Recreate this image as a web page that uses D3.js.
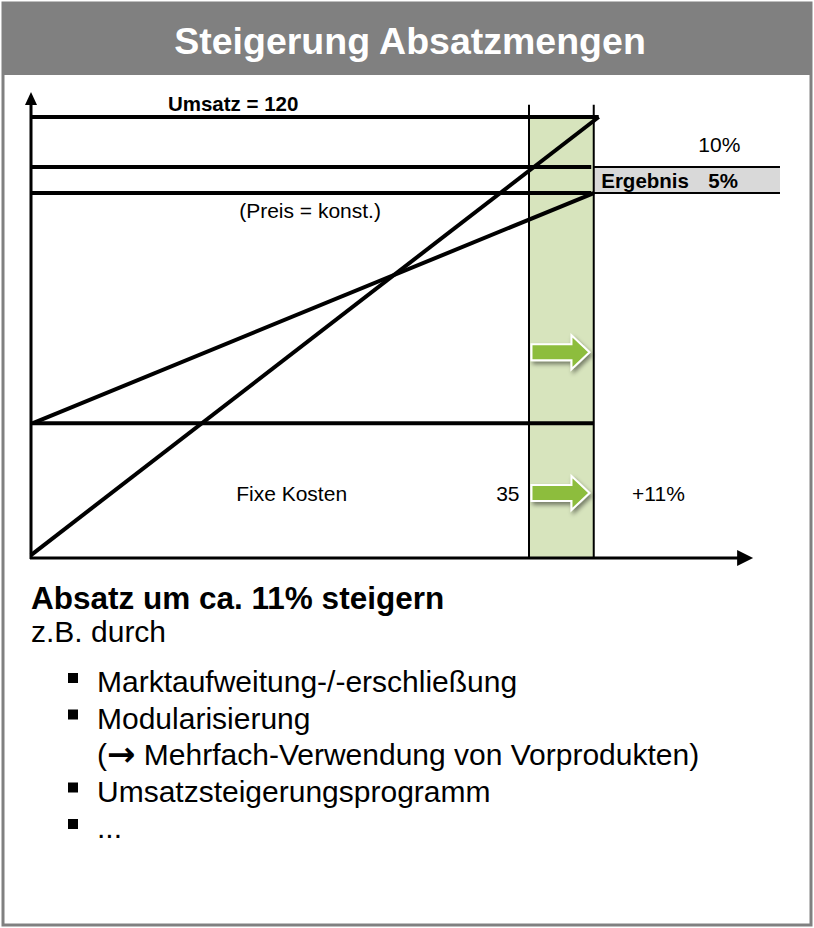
<!DOCTYPE html>
<html>
<head>
<meta charset="utf-8">
<script src="https://cdn.jsdelivr.net/npm/d3@7"></script>
<style>
  html, body { margin: 0; padding: 0; background: #fff; }
  svg text { font-family: "Liberation Sans", Arial, sans-serif; }
</style>
</head>
<body>
<svg id="vis" width="814" height="928"></svg>
<script>
// volume axis: origin, current volume, new volume
var volumeMarks = [0, 100, 113];
var volumeMax = 145;
// value levels (Umsatz, Umsatz alt, Kosten neu, Fixkosten)
var levelValues = [120, 106.4, 99.3, 36.7];
// Umsatz line and Kosten line (volume, value)
var revenueLine = [[0, 0.8], [114, 120]];
var costLine = [[0.4, 36.7], [113, 99.3]];
// arrows in the band (value level of centre)
var arrowLevels = [56, 17.7];
var bullets = [
  ["Marktaufweitung-/-erschließung"],
  ["Modularisierung", "(\u2192 Mehrfach-Verwendung von Vorprodukten)"],
  ["Umsatzsteigerungsprogramm"],
  ["..."]
];

var svg = d3.select("#vis");

// frame + title bar
svg.append("rect").attr("x", 3).attr("y", 3).attr("width", 808).attr("height", 922)
  .attr("fill", "#fff").attr("stroke", "#808080").attr("stroke-width", 3);
svg.append("rect").attr("x", 2).attr("y", 2).attr("width", 810).attr("height", 73)
  .attr("fill", "#808080");
svg.append("text").attr("x", 410).attr("y", 54).attr("text-anchor", "middle")
  .style("font-size", "37.5px").style("font-weight", "bold").attr("fill", "#fff")
  .text("Steigerung Absatzmengen");

var x = d3.scaleLinear().domain([0, 100]).range([31, 529]);
var y = d3.scaleLinear().domain([0, 120]).range([558, 117]);

var defs = svg.append("defs");
var f = defs.append("filter").attr("id", "shadow").attr("x", "-20%").attr("y", "-30%")
  .attr("width", "150%").attr("height", "180%");
f.append("feDropShadow").attr("dx", 2).attr("dy", 3).attr("stdDeviation", 2)
  .attr("flood-color", "#000").attr("flood-opacity", 0.45);

var g = svg.append("g");

// green band
g.append("rect")
  .attr("x", x(volumeMarks[1])).attr("y", y(levelValues[0]))
  .attr("width", x(volumeMarks[2]) - x(volumeMarks[1]))
  .attr("height", y(0) - y(levelValues[0]))
  .attr("fill", "#d7e4bd");

// Ergebnis box
g.append("rect")
  .attr("x", x(volumeMarks[2])).attr("y", y(levelValues[1]))
  .attr("width", x(150.4) - x(volumeMarks[2]))
  .attr("height", y(levelValues[2]) - y(levelValues[1]))
  .attr("fill", "#d9d9d9");
[levelValues[1], levelValues[2]].forEach(function (v) {
  g.append("line").attr("x1", x(volumeMarks[2])).attr("x2", x(150.4))
    .attr("y1", y(v)).attr("y2", y(v)).attr("stroke", "#000").attr("stroke-width", 2);
});

// band verticals
volumeMarks.slice(1).forEach(function (v) {
  g.append("line").attr("x1", x(v)).attr("x2", x(v))
    .attr("y1", y(0)).attr("y2", y(123.3))
    .attr("stroke", "#000").attr("stroke-width", 2);
});

// horizontal level lines
var levelEnds = [114, 112.5, 112.5, 113];
levelValues.forEach(function (v, i) {
  g.append("line").attr("x1", x(0)).attr("x2", x(levelEnds[i]))
    .attr("y1", y(v)).attr("y2", y(v))
    .attr("stroke", "#000").attr("stroke-width", 4);
});

// revenue / cost lines
var line = d3.line().x(function (d) { return x(d[0]); }).y(function (d) { return y(d[1]); });
[revenueLine, costLine].forEach(function (d) {
  g.append("path").attr("d", line(d)).attr("fill", "none")
    .attr("stroke", "#000").attr("stroke-width", 4);
});

// axes with arrow heads
g.append("line").attr("x1", x(0)).attr("x2", x(0)).attr("y1", y(0) + 1).attr("y2", y(124))
  .attr("stroke", "#000").attr("stroke-width", 3);
g.append("path").attr("d", "M" + x(0) + "," + y(126.8) + " l-6,13 l12,0 z").attr("fill", "#000");
g.append("line").attr("x1", x(0) - 1).attr("x2", x(volumeMax) - 14).attr("y1", y(0)).attr("y2", y(0))
  .attr("stroke", "#000").attr("stroke-width", 3);
g.append("path").attr("d", "M" + x(volumeMax) + "," + y(0) + " l-16,-8 l0,16 z").attr("fill", "#000");

// arrows
arrowLevels.forEach(function (v) {
  var x0 = x(100.5), cy = y(v);
  var p = "M" + x0 + "," + (cy - 8) + " h40 v-9 l18,17 l-18,17 v-9 h-40 z";
  g.append("path").attr("d", p).attr("fill", "#8dbd3c").attr("stroke", "#fff")
    .attr("stroke-width", 2).attr("filter", "url(#shadow)");
});

// chart labels
function label(tx, ty, s, bold, anchor) {
  g.append("text").attr("x", tx).attr("y", ty).attr("text-anchor", anchor || "start")
    .style("font-size", bold ? "20.5px" : "21px").style("font-weight", bold ? "bold" : "normal")
    .attr("fill", "#000").text(s);
}
label(x(27.5), y(120) - 6, "Umsatz = 120", true);
label(x(134), y(110.5), "10%", false);
label(x(114.5), y(100.6), "Ergebnis", true);
label(x(136), y(100.6), "5%", true);
label(x(41.8), y(92.4), "(Preis = konst.)", false);
label(x(41.2), y(15.5), "Fixe Kosten", false);
label(x(93.4), y(15.5), "35", false);
label(x(120.7), y(15.5), "+11%", false);

// text block
svg.append("text").attr("x", 31).attr("y", 609).style("font-size", "31.5px")
  .style("font-weight", "bold").text("Absatz um ca. 11% steigern");
svg.append("text").attr("x", 31).attr("y", 642).style("font-size", "30px")
  .text("z.B. durch");

var by = 692;
bullets.forEach(function (b) {
  svg.append("rect").attr("x", 68).attr("y", by - 19).attr("width", 10).attr("height", 10).attr("fill", "#000");
  b.forEach(function (t) {
    var tx = svg.append("text").attr("x", 97).attr("y", by).style("font-size", "30px");
    if (t.indexOf("\u2192") >= 0) {
      tx.append("tspan").text("(");
      tx.append("tspan").style("font-family", "'DejaVu Sans'").style("font-weight", "bold")
        .style("font-size", "34px").attr("dy", 1).text("\u2192");
      tx.append("tspan").attr("dy", -1).text(t.slice(2));
    } else {
      tx.text(t);
    }
    by += 36.5;
  });
});
</script>
</body>
</html>
